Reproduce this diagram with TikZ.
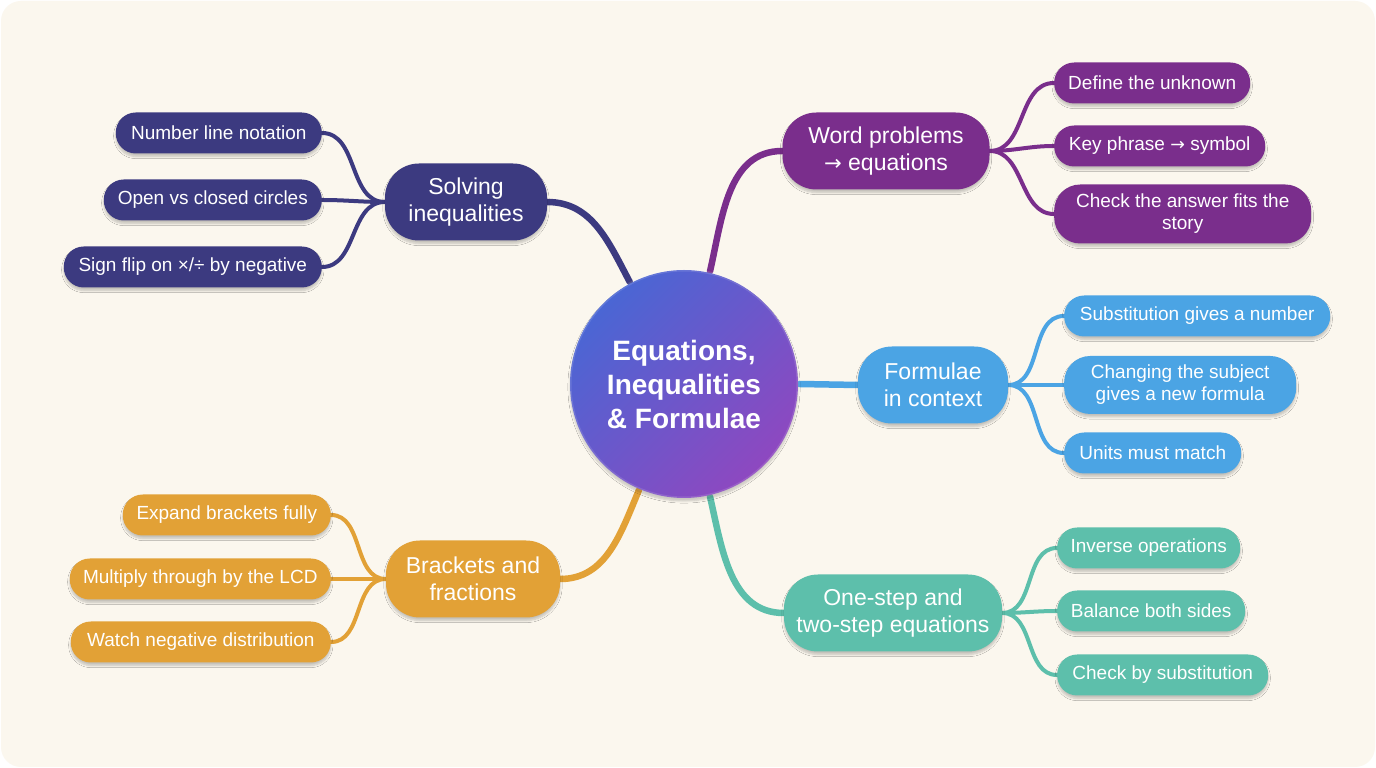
\documentclass[tikz,border=0pt]{standalone}
\usepackage{fontspec}
\setmainfont{Liberation Sans}
\newfontfamily\arrowfont{DejaVu Sans}
\newcommand{\toarrow}{{\arrowfont\fontsize{0.92em}{1em}\selectfont →}}
\usetikzlibrary{backgrounds,shadows.blur}

\definecolor{paper}{HTML}{FBF7EE}
\definecolor{navyc}{HTML}{3C3A80}
\definecolor{purpc}{HTML}{7A2E8C}
\definecolor{bluec}{HTML}{4BA4E4}
\definecolor{orangec}{HTML}{E2A136}
\definecolor{tealc}{HTML}{5DBFAB}
\definecolor{rootA}{HTML}{4A66D4}
\definecolor{rootB}{HTML}{8E48C0}

\begin{document}
\begin{tikzpicture}[x=1pt, y=1pt,
    every node/.style={text=white, align=center, font=\fontsize{19}{22}\selectfont},
    soft/.style={blur shadow={shadow xshift=0pt, shadow yshift=-3pt, shadow opacity=22, shadow blur steps=6}},
    leaf/.style={soft, rounded corners=20pt, minimum height=41pt, inner xsep=4pt, inner ysep=3pt},
    topic/.style={soft, rounded corners=34pt, minimum height=77pt, inner xsep=4pt, font=\fontsize{23}{27}\selectfont},
    twig/.style={line width=4pt, line cap=round},
    limb/.style={line width=6.5pt, line cap=round}]

    % centre
    \node[circle, soft, minimum size=228pt, top color=rootA, bottom color=rootB, shading angle=45,
          draw=white, draw opacity=0.12, line width=3pt,
          font=\bfseries\fontsize{28}{34}\selectfont] (root) at (684,384) {Equations,\\Inequalities\\\& Formulae};

    % solving inequalities
    \node[topic, fill=navyc, minimum width=162pt] (solve) at (466,566) {Solving\\inequalities};
    \node[leaf, fill=navyc, minimum width=206pt, anchor=east] (numline) at (322,635) {Number line notation};
    \node[leaf, fill=navyc, minimum width=218pt, anchor=east] (circles) at (322,568) {Open vs closed circles};
    \node[leaf, fill=navyc, minimum width=258pt, anchor=east] (signflip) at (322,501) {Sign flip on ×/÷ by negative};

    % word problems
    \node[topic, fill=purpc, minimum width=207pt] (word) at (886,617) {Word problems\\\toarrow{} equations};
    \node[leaf, fill=purpc, minimum width=196pt, anchor=west] (unknown) at (1054,685) {Define the unknown};
    \node[leaf, fill=purpc, minimum width=211pt, anchor=west] (keyphrase) at (1054,622) {Key phrase \toarrow{} symbol};
    \node[leaf, fill=purpc, minimum width=257pt, minimum height=59pt, rounded corners=26pt, anchor=west] (story) at (1054,554) {Check the answer fits the\\story};

    % formulae
    \node[topic, fill=bluec, minimum width=150pt] (form) at (933,383) {Formulae\\in context};
    \node[leaf, fill=bluec, minimum width=266pt, anchor=west] (subst) at (1064,452) {Substitution gives a number};
    \node[leaf, fill=bluec, minimum width=232pt, minimum height=58pt, rounded corners=26pt, anchor=west] (subject) at (1064,383) {Changing the subject\\gives a new formula};
    \node[leaf, fill=bluec, minimum width=177pt, anchor=west] (units) at (1064,315) {Units must match};

    % brackets
    \node[topic, fill=orangec, minimum width=174pt] (brack) at (473,189) {Brackets and\\fractions};
    \node[leaf, fill=orangec, minimum width=208pt, anchor=east] (expand) at (331,253) {Expand brackets fully};
    \node[leaf, fill=orangec, minimum width=261pt, anchor=east] (lcd) at (331,189) {Multiply through by the LCD};
    \node[leaf, fill=orangec, minimum width=260pt, anchor=east] (negdist) at (331,126) {Watch negative distribution};

    % one-step
    \node[topic, fill=tealc, minimum width=218pt] (steps) at (893,155) {One-step and\\two-step equations};
    \node[leaf, fill=tealc, minimum width=183pt, anchor=west] (inverse) at (1057,220) {Inverse operations};
    \node[leaf, fill=tealc, minimum width=188pt, anchor=west] (balance) at (1057,157) {Balance both sides};
    \node[leaf, fill=tealc, minimum width=211pt, anchor=west] (bysub) at (1057,93) {Check by substitution};

    \begin{scope}[on background layer]
      \fill[white] (0,0) rectangle (1376,768);
      \fill[paper, rounded corners=20pt] (1,1) rectangle (1375,767);

      \draw[limb, navyc] (solve.east) to[out=0, in=118] (root.118);
      \draw[limb, purpc] (root.77) to[out=77, in=180] (word.west);
      \draw[limb, bluec] (root.east) -- (form.west);
      \draw[limb, orangec] (brack.east) to[out=0, in=247] (root.247);
      \draw[limb, tealc] (root.283) to[out=283, in=180] (steps.west);

      \foreach \n in {numline, circles, signflip}
        \draw[twig, navyc] (solve.west) to[out=180, in=0] (\n.east);
      \foreach \n in {unknown, keyphrase, story}
        \draw[twig, purpc] (word.east) to[out=0, in=180] (\n.west);
      \foreach \n in {subst, subject, units}
        \draw[twig, bluec] (form.east) to[out=0, in=180] (\n.west);
      \foreach \n in {expand, lcd, negdist}
        \draw[twig, orangec] (brack.west) to[out=180, in=0] (\n.east);
      \foreach \n in {inverse, balance, bysub}
        \draw[twig, tealc] (steps.east) to[out=0, in=180] (\n.west);
    \end{scope}
\end{tikzpicture}
\end{document}
